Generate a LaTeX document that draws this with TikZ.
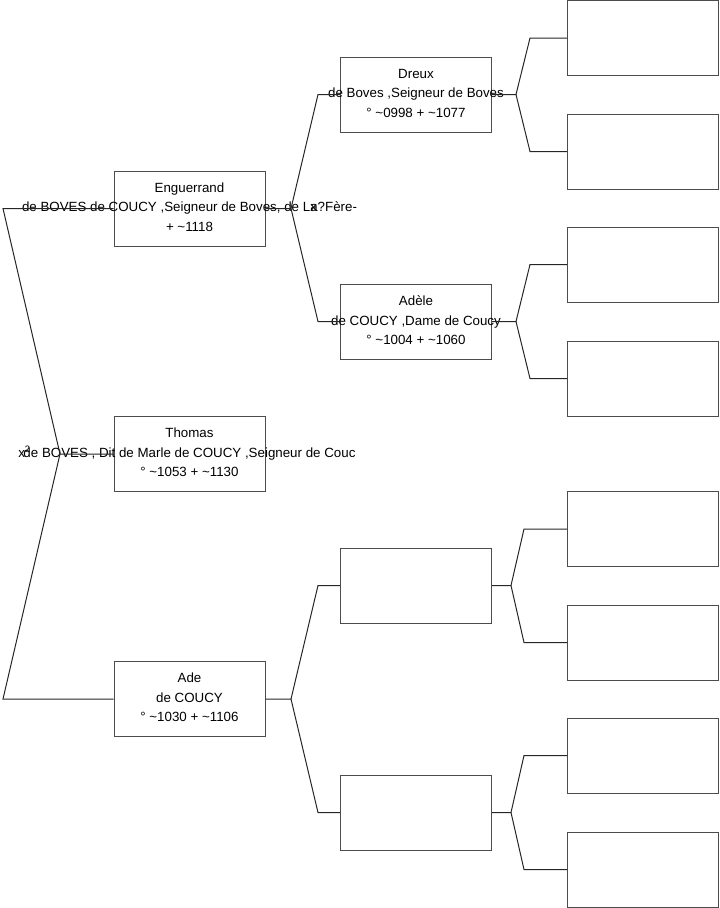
\documentclass[tikz,border=0pt]{standalone}
\usepackage{fontspec}
\setmainfont{Liberation Sans}
\usetikzlibrary{positioning}

\begin{document}
\begin{tikzpicture}[x=0.75pt, y=-0.75pt,
                pbox/.style={draw=black!70, line width=0.75pt, inner sep=0pt,
                             minimum width=113.25pt, minimum height=56.25pt},
                ptext/.style={align=center, inner sep=0pt, yshift=1pt,
                              font=\fontsize{10}{14.6}\selectfont},
                link/.style={draw=black!85, line width=0.75pt}]
                \useasboundingbox (0,0) rectangle (719,908);

                % generation 1 and 2
                \node[pbox] (eng) at (189.5,208.5) {};
                \node[pbox] (tho) at (189.5,454) {};
                \node[pbox] (ade) at (189.5,699) {};
                \node[pbox] (dre) at (416,94.5) {};
                \node[pbox] (adl) at (416,321.5) {};
                \node[pbox] (emp1) at (416,585.5) {};
                \node[pbox] (emp2) at (416,812.5) {};
                % generation 3, all empty
                \foreach \y [count=\i] in {38,151.5,264.5,378.5,529,642.5,755.5,869.5}
                    \node[pbox] (g\i) at (643,\y) {};

                \node[ptext] (engtxt) at (eng.center) {Enguerrand\\
                      de BOVES de COUCY ,Seigneur de Boves, de L\rlap{x}a?Fère-\\
                      + \textasciitilde1118};
                \node[ptext] (thotxt) at (tho.center) {Thomas\\
                      de BOVES , Dit de Marle de COUCY ,Seigneur de Couc\\
                      ° \textasciitilde1053 + \textasciitilde1130};
                \node[ptext] (adetxt) at (ade.center) {Ade\\de COUCY\\
                      ° \textasciitilde1030 + \textasciitilde1106};
                \node[ptext] (dretxt) at (dre.center) {Dreux\\
                      de Boves ,Seigneur de Boves\\
                      ° \textasciitilde0998 + \textasciitilde1077};
                \node[ptext] (adltxt) at (adl.center) {Adèle\\
                      de COUCY ,Dame de Coucy\\
                      ° \textasciitilde1004 + \textasciitilde1060};
                \node[inner sep=0pt, anchor=west, font=\fontsize{10}{12}\selectfont]
                      (times) at (18,452) {x\textsuperscript{2}};

                % forks
                \coordinate (f0) at (60,454);
                \coordinate (f0u) at (3,208.5);  \coordinate (f0d) at (3,699);
                \coordinate (f1) at (291,208.5);
                \coordinate (f1u) at (318,94.5); \coordinate (f1d) at (318,321.5);
                \coordinate (f2) at (291,699);
                \coordinate (f2u) at (318,585.5); \coordinate (f2d) at (318,812.5);
                \coordinate (f3) at (516,94.5);
                \coordinate (f3u) at (530,38);   \coordinate (f3d) at (530,151.5);
                \coordinate (f4) at (516,321.5);
                \coordinate (f4u) at (530,264.5); \coordinate (f4d) at (530,378.5);
                \coordinate (f5) at (511,585.5);
                \coordinate (f5u) at (524,529);  \coordinate (f5d) at (524,642.5);
                \coordinate (f6) at (511,812.5);
                \coordinate (f6u) at (524,755.5); \coordinate (f6d) at (524,869.5);

                \draw[link] (tho.west)--(f0)--(f0u)--(eng.west);
                \draw[link] (f0)--(f0d)--(ade.west);
                \draw[link] (eng.east)--(f1)--(f1u)--(dre.west);
                \draw[link] (f1)--(f1d)--(adl.west);
                \draw[link] (ade.east)--(f2)--(f2u)--(emp1.west);
                \draw[link] (f2)--(f2d)--(emp2.west);
                \draw[link] (dre.east)--(f3)--(f3u)--(g1.west);
                \draw[link] (f3)--(f3d)--(g2.west);
                \draw[link] (adl.east)--(f4)--(f4u)--(g3.west);
                \draw[link] (f4)--(f4d)--(g4.west);
                \draw[link] (emp1.east)--(f5)--(f5u)--(g5.west);
                \draw[link] (f5)--(f5d)--(g6.west);
                \draw[link] (emp2.east)--(f6)--(f6u)--(g7.west);
                \draw[link] (f6)--(f6d)--(g8.west);
\end{tikzpicture}
\end{document}
